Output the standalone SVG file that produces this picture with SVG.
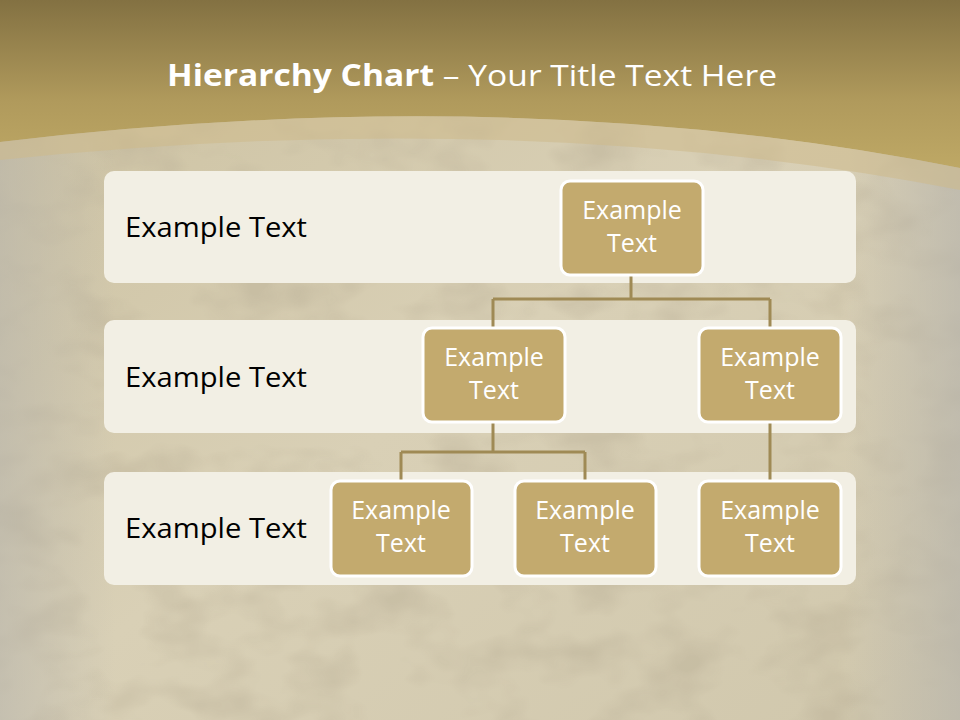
<svg xmlns="http://www.w3.org/2000/svg" width="960" height="720" viewBox="0 0 960 720">
<defs>
<linearGradient id="bg" x1="0" y1="0" x2="1" y2="1">
<stop offset="0" stop-color="#cbc09f"/>
<stop offset="0.5" stop-color="#d9d0b6"/>
<stop offset="1" stop-color="#d0c7ac"/>
</linearGradient>
<linearGradient id="top" x1="0" y1="0" x2="0" y2="1">
<stop offset="0" stop-color="#837142"/>
<stop offset="0.6" stop-color="#b09a5c"/>
<stop offset="1" stop-color="#bea865"/>
</linearGradient>
<linearGradient id="side" x1="0" y1="0" x2="1" y2="0">
<stop offset="0" stop-color="#b8b5ac" stop-opacity="0.6"/>
<stop offset="0.12" stop-color="#b8b5ac" stop-opacity="0"/>
<stop offset="0.88" stop-color="#b8b5ac" stop-opacity="0"/>
<stop offset="1" stop-color="#b8b5ac" stop-opacity="0.7"/>
</linearGradient>
<filter id="tex" x="0" y="0" width="100%" height="100%">
<feTurbulence type="fractalNoise" baseFrequency="0.014 0.022" numOctaves="3" seed="4"/>
<feColorMatrix type="matrix" values="0 0 0 0 0.52  0 0 0 0 0.46  0 0 0 0 0.33  0 0 0 -2.6 1.45"/>
</filter>
<style>
.row{fill:#f2efe4;}
.node rect{fill:#c3aa6e;stroke:#ffffff;stroke-width:3;}
.node text{fill:#ffffff;font-family:"Open Sans","Liberation Sans",sans-serif;font-size:25px;text-anchor:middle;}
.lbl{fill:#000000;font-family:"Open Sans","Liberation Sans",sans-serif;font-size:27px;}
.conn{fill:none;stroke:#9f8a55;stroke-width:3;}
</style>
</defs>
<rect x="0" y="0" width="960" height="720" fill="url(#bg)"/>
<rect x="0" y="0" width="960" height="720" filter="url(#tex)" opacity="0.55"/>
<rect x="0" y="0" width="960" height="720" fill="url(#side)"/>
<path d="M0,0 H960 V168 Q520,80 0,142 Z" fill="url(#top)"/>
<path d="M0,142 Q520,80 960,168 L960,190 Q520,105 0,160 Z" fill="#cdb98a" opacity="0.55"/>
<text x="472" y="86" font-family="'Open Sans','Liberation Sans',sans-serif" font-size="30" fill="#ffffff" text-anchor="middle" textLength="610" lengthAdjust="spacingAndGlyphs"><tspan font-weight="bold">Hierarchy Chart</tspan> – Your Title Text Here</text>
<g id="rows">
<rect class="row" x="104" y="171" width="752" height="112" rx="10"/>
<rect class="row" x="104" y="320" width="752" height="113" rx="10"/>
<rect class="row" x="104" y="472" width="752" height="113" rx="10"/>
<text class="lbl" x="125" y="237" textLength="182" lengthAdjust="spacingAndGlyphs">Example Text</text>
<text class="lbl" x="125" y="387" textLength="182" lengthAdjust="spacingAndGlyphs">Example Text</text>
<text class="lbl" x="125" y="538" textLength="182" lengthAdjust="spacingAndGlyphs">Example Text</text>
</g>
<g id="connectors">
<path class="conn" d="M631,275 V299 M493,299 H770 M493,328 V299 M770,328 V299"/>
<path class="conn" d="M493,422 V452 M401,452 H585 M401,480 V452 M585,480 V452"/>
<path class="conn" d="M770,422 V480"/>
</g>
<g id="n1" class="node"><rect x="561" y="181" width="142" height="94" rx="9"/><text x="632" y="219">Example</text><text x="632" y="252">Text</text></g>
<g id="n2" class="node"><rect x="423" y="328" width="142" height="94" rx="9"/><text x="494" y="366">Example</text><text x="494" y="399">Text</text></g>
<g id="n3" class="node"><rect x="699" y="328" width="142" height="94" rx="9"/><text x="770" y="366">Example</text><text x="770" y="399">Text</text></g>
<g id="n4" class="node"><rect x="331" y="481" width="141" height="95" rx="9"/><text x="401" y="519">Example</text><text x="401" y="552">Text</text></g>
<g id="n5" class="node"><rect x="515" y="481" width="141" height="95" rx="9"/><text x="585" y="519">Example</text><text x="585" y="552">Text</text></g>
<g id="n6" class="node"><rect x="699" y="481" width="142" height="95" rx="9"/><text x="770" y="519">Example</text><text x="770" y="552">Text</text></g>
</svg>
